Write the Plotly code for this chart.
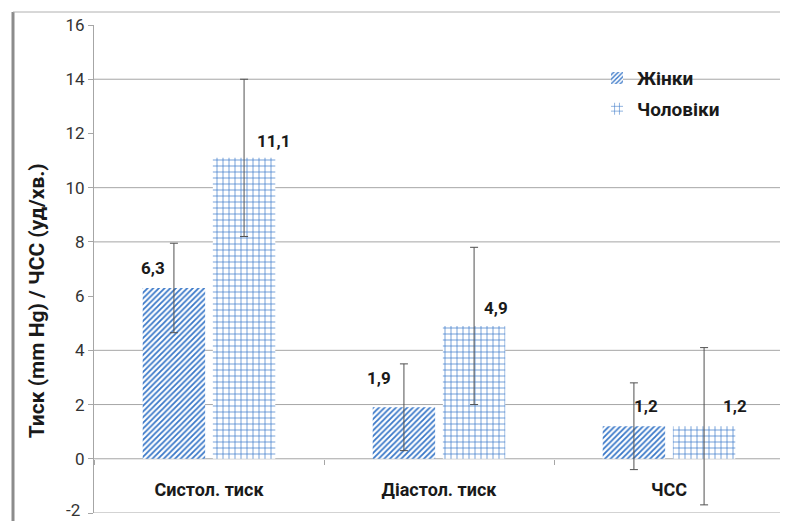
import plotly.graph_objects as go

categories = ["Систол. тиск", "Діастол. тиск", "ЧСС"]
women = [6.3, 1.9, 1.2]
men = [11.1, 4.9, 1.2]
women_err = [1.65, 1.6, 1.6]
men_err = [2.9, 2.9, 2.9]
women_labels = ["6,3", "1,9", "1,2"]
men_labels = ["11,1", "4,9", "1,2"]
y_ticks = [-2, 0, 2, 4, 6, 8, 10, 12, 14, 16]
y_tick_text = ["", "0", "2", "4", "6", "8", "10", "12", "14", "16"]
y_bottom_label = "-2"
grid_vals = [-2, 0, 2, 4, 8, 10, 14]

# label placement (pixels, relative to category centre / bar top)
women_lab_dx = [-56, -60, -23]
women_lab_dy = [20, 29, 20]
men_lab_dx = [64, 57, 66]
men_lab_dy = [17, 18, 20]

BLUE = "#3a78c8"
FONT = "Roboto"

fig = go.Figure()
fig.add_trace(go.Bar(
    x=categories, y=women, name="<b>Жінки</b>", legendgroup="w",
    marker=dict(color="white", line=dict(width=0),
                pattern=dict(shape="/", fgcolor=BLUE, bgcolor="white",
                             size=4, solidity=0.45, fillmode="replace")),
    error_y=dict(type="data", array=women_err, color="#505050",
                 thickness=1, width=4),
))
fig.add_trace(go.Bar(
    x=categories, y=men, name="<b>Чоловіки</b>", legendgroup="m",
    marker=dict(color="white", line=dict(width=0),
                pattern=dict(shape="+", fgcolor=BLUE, bgcolor="white",
                             size=6, solidity=0.22, fillmode="replace")),
    error_y=dict(type="data", array=men_err, color="#505050",
                 thickness=1, width=4),
))

for cat, v, t, dx, dy in zip(categories, women, women_labels, women_lab_dx, women_lab_dy):
    fig.add_annotation(x=cat, y=v, text="<b>%s</b>" % t, showarrow=False,
                       xshift=dx, yshift=dy, yanchor="middle",
                       font=dict(family=FONT, size=17, color="#1a1a1a"))
for cat, v, t, dx, dy in zip(categories, men, men_labels, men_lab_dx, men_lab_dy):
    fig.add_annotation(x=cat, y=v, text="<b>%s</b>" % t, showarrow=False,
                       xshift=dx, yshift=dy, yanchor="middle",
                       font=dict(family=FONT, size=17, color="#1a1a1a"))

# bottom tick label, nudged up so it stays inside the picture
fig.add_annotation(xref="paper", yref="y", x=-12/690, y=y_ticks[0],
                   xanchor="right", yanchor="middle", yshift=3,
                   showarrow=False, text=y_bottom_label,
                   font=dict(family=FONT, size=17, color="#333333"))

# axis title (placed like the original, slightly below the middle)
fig.add_annotation(xref="paper", yref="paper", x=-57/690, y=0.434,
                   xanchor="center", yanchor="middle", textangle=-90,
                   showarrow=False, text="<b>Тиск (mm Hg) / ЧСС (уд/хв.)</b>",
                   font=dict(family=FONT, size=21, color="#1a1a1a"))

for g in grid_vals:
    fig.add_shape(type="line", xref="paper", yref="y", x0=0, x1=1, y0=g, y1=g,
                  line=dict(color="#a6a6a6", width=1), layer="below")

# picture frame
fig.add_shape(type="line", xref="paper", yref="paper", x0=-81/690, x1=-81/690,
              y0=-8/488, y1=501/488, line=dict(color="#8c8c8c", width=3))
fig.add_shape(type="line", xref="paper", yref="paper", x0=-81/690, x1=694/690,
              y0=501/488, y1=501/488, line=dict(color="#b0b0b0", width=1))

fig.update_layout(
    width=780, height=513,
    margin=dict(l=86, r=4, t=17, b=8, autoexpand=False),
    paper_bgcolor="white", plot_bgcolor="white",
    barmode="group", bargap=0.39, bargroupgap=0.11,
    font=dict(family=FONT, color="#222222"),
    showlegend=True,
    legend=dict(x=0.729, y=0.93, xanchor="left", yanchor="top",
                bgcolor="rgba(255,255,255,0)", tracegroupgap=3,
                font=dict(family=FONT, size=19, color="#1a1a1a"),
                itemwidth=30),
)

fig.update_yaxes(range=[-2, 16], tickvals=y_ticks, ticktext=y_tick_text,
                 showgrid=False, automargin=False,
                 zeroline=False, showline=True, linecolor="#a6a6a6",
                 ticks="outside", ticklen=5, tickcolor="#a6a6a6",
                 tickfont=dict(family=FONT, size=17, color="#333333"))
fig.update_xaxes(anchor="free", position=2/18, showgrid=False, automargin=False,
                 showline=False, ticks="outside", tickson="boundaries",
                 ticklen=5, tickcolor="#a6a6a6",
                 tickfont=dict(family=FONT, size=18, color="#1a1a1a"),
                 ticklabelstandoff=18, tickprefix="<b>", ticksuffix="</b>")

fig.write_html("out.html")
